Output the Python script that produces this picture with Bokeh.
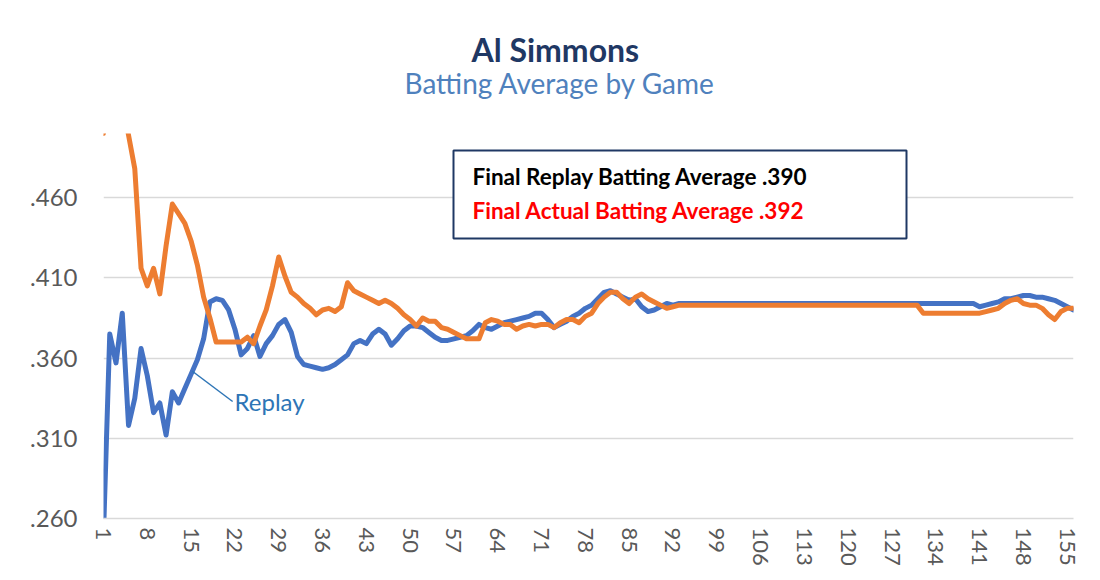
import math
import numpy as np
from bokeh.plotting import figure
from bokeh.models import Range1d, FixedTicker, CustomJSTickFormatter, Label, BoxAnnotation, Title
from bokeh.embed import file_html
from bokeh.resources import INLINE

# ---------------- data ----------------
games = list(range(1, 157))

replay = [
    .250, .375, .357, .388, .318, .335, .366, .349, .326, .332,
    .312, .339, .332, .341, .350, .359, .372, .395, .397, .396,
    .390, .378, .362, .366, .374, .361, .369, .374, .381, .384,
    .376, .361, .356, .355, .354, .353, .354, .356, .359, .362,
    .369, .371, .369, .375, .378, .375, .368, .372, .377, .380,
    .380, .379, .376, .373, .371, .371, .372, .373, .374, .377,
    .381, .379, .378, .380, .382, .383, .384, .385, .386, .388,
    .388, .384, .379, .381, .383, .386, .388, .391, .393, .397,
    .401, .402, .400, .398, .396, .397, .392, .389, .390, .392,
    .394, .393, .394, .394, .394, .394, .394, .394, .394, .394,
    .394, .394, .394, .394, .394, .394, .394, .394, .394, .394,
    .394, .394, .394, .394, .394, .394, .394, .394, .394, .394,
    .394, .394, .394, .394, .394, .394, .394, .394, .394, .394,
    .394, .394, .394, .394, .394, .394, .394, .394, .394, .394,
    .392, .393, .394, .395, .397, .397, .398, .399, .399, .398,
    .398, .397, .396, .394, .392, .390,
]

actual = [
    .500, .600, .550, .520, .499, .478, .416, .405, .416, .400,
    .430, .456, .450, .444, .433, .418, .398, .385, .370, .370,
    .370, .370, .370, .373, .369, .380, .390, .405, .423, .411,
    .401, .398, .394, .391, .387, .390, .391, .389, .392, .407,
    .402, .400, .398, .396, .394, .396, .394, .391, .387, .384,
    .380, .385, .383, .383, .379, .378, .376, .374, .372, .372,
    .372, .382, .384, .383, .381, .381, .378, .380, .381, .380,
    .381, .381, .379, .382, .384, .384, .382, .386, .388, .394,
    .398, .401, .401, .397, .394, .398, .400, .397, .395, .393,
    .391, .392, .393, .393, .393, .393, .393, .393, .393, .393,
    .393, .393, .393, .393, .393, .393, .393, .393, .393, .393,
    .393, .393, .393, .393, .393, .393, .393, .393, .393, .393,
    .393, .393, .393, .393, .393, .393, .393, .393, .393, .393,
    .393, .388, .388, .388, .388, .388, .388, .388, .388, .388,
    .388, .389, .390, .391, .394, .396, .397, .394, .393, .393,
    .391, .387, .384, .389, .391, .391,
]

x_ticks = [1, 8, 15, 22, 29, 36, 43, 50, 57, 64, 71, 78, 85, 92, 99,
           106, 113, 120, 127, 134, 141, 148, 155]
y_ticks = [0.26, 0.31, 0.36, 0.41, 0.46]
y_tick_labels = [".260", ".310", ".360", ".410", ".460"]

title_text = "Al Simmons"
subtitle_text = "Batting Average by Game"
note_replay = "Final Replay Batting Average .390"
note_actual = "Final Actual Batting Average .392"
series_label = "Replay"

# ---------------- layout ----------------
W, H = 1100, 580
FL, FR, FT, FB = 103, 27, 133, 62          # frame borders (page px)
X0, X1 = 1, 156
Y0, Y1 = 0.26, 0.50
FONT = "Lato"


def fx(px):   # page px -> data x
    return X0 + (px - FL) / (W - FL - FR) * (X1 - X0)


def fy(py):   # page px (from top) -> data y
    return Y0 + (H - FB - py) / (H - FT - FB) * (Y1 - Y0)


p = figure(width=W, height=H, x_range=Range1d(X0, X1), y_range=Range1d(Y0, Y1),
           output_backend="svg", toolbar_location=None,
           min_border_left=FL, min_border_right=FR,
           min_border_top=FT, min_border_bottom=FB)
p.outline_line_color = None
p.background_fill_color = "white"
p.border_fill_color = "white"

p.xgrid.visible = False
p.ygrid.grid_line_color = "#d9d9d9"
p.ygrid.grid_line_width = 1.5
p.ygrid.ticker = FixedTicker(ticks=y_ticks)

p.yaxis.ticker = FixedTicker(ticks=y_ticks)
p.yaxis.formatter = CustomJSTickFormatter(
    args=dict(t=y_ticks, l=y_tick_labels),
    code="for (let i = 0; i < t.length; i++) { if (Math.abs(t[i] - tick) < 1e-6) return l[i]; } return '';")
p.yaxis.axis_line_color = None
p.yaxis.major_tick_line_color = None
p.yaxis.minor_tick_line_color = None
p.yaxis.major_tick_out = 0
p.yaxis.major_tick_in = 0
p.yaxis.major_label_standoff = 26
p.yaxis.major_label_text_font = FONT
p.yaxis.major_label_text_font_size = "24px"
p.yaxis.major_label_text_color = "#595959"

p.xaxis.ticker = FixedTicker(ticks=x_ticks)
p.xaxis.major_label_orientation = -math.pi / 2
p.xaxis.axis_line_color = "#d9d9d9"
p.xaxis.axis_line_width = 1.5
p.xaxis.major_tick_line_color = None
p.xaxis.minor_tick_line_color = None
p.xaxis.major_tick_out = 0
p.xaxis.major_tick_in = 0
p.xaxis.major_label_standoff = 9
p.xaxis.major_label_text_font = FONT
p.xaxis.major_label_text_font_size = "22px"
p.xaxis.major_label_text_color = "#595959"

p.line(games, replay, line_color="#4472c4", line_width=5, line_join="round", line_cap="round")
p.line(games, actual, line_color="#ed7d31", line_width=5, line_join="round", line_cap="round")

# titles (stacked above the frame)
p.add_layout(Title(text=" ", text_font_size="22px", standoff=12), "above")
p.add_layout(Title(text=subtitle_text, align="left", offset=301, text_font=FONT,
                   text_font_style="normal", text_font_size="28px",
                   text_color="#4f81bd", standoff=-10), "above")
p.add_layout(Title(text=title_text, align="left", offset=368, text_font=FONT,
                   text_font_style="bold", text_font_size="32px",
                   text_color="#1f3864", standoff=0), "above")

# note box
p.add_layout(BoxAnnotation(left=fx(453), right=fx(906), top=fy(150), bottom=fy(238),
                           fill_color="white", fill_alpha=1,
                           line_color="#1f3864", line_alpha=1, line_width=2))
p.add_layout(Label(x=fx(472), y=fy(176), text=note_replay, text_align="left",
                   text_baseline="middle", text_font=FONT, text_font_style="bold",
                   text_font_size="22.5px", text_color="#000000"))
p.add_layout(Label(x=fx(472), y=fy(210), text=note_actual, text_align="left",
                   text_baseline="middle", text_font=FONT, text_font_style="bold",
                   text_font_size="22.5px", text_color="#ff0000"))

# series label with leader line
lead_x = 15.2
lead_y = float(np.interp(lead_x, games, replay))
lab_x, lab_y = fx(234), fy(401)
p.line([lead_x, lab_x - 0.3], [lead_y, lab_y], line_color="#2e75b6", line_width=1.5)
p.add_layout(Label(x=lab_x, y=lab_y, text=series_label, text_align="left",
                   text_baseline="middle", text_font=FONT,
                   text_font_size="24px", text_color="#2e75b6"))

open("out.html", "w").write(file_html(p, INLINE))
